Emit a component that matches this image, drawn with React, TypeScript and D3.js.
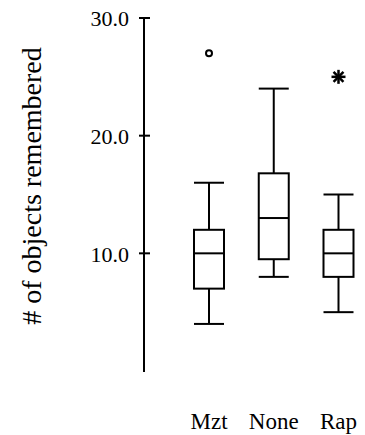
import React, { useEffect, useRef } from "react";
import * as d3 from "d3";

// box plot stats per group
const groups = ["Mzt", "None", "Rap"];
const whiskerLow = [4, 8, 5];
const q1 = [7, 9.5, 8];
const medians = [10, 13, 10];
const q3 = [12, 16.8, 12];
const whiskerHigh = [16, 24, 15];

// outliers: group, value, marker type
const outlierGroups = ["Mzt", "Rap"];
const outlierValues = [27, 25];
const outlierKinds = ["circle", "star"];

const yTicks = [10, 20, 30];

const App = () => {
  const svgRef = useRef(null);

  useEffect(() => {
    const svg = d3.select(svgRef.current);
    svg.selectAll("*").remove();

    const font = "Liberation Serif, serif";

    const y = d3.scaleLinear().domain([0, 30]).range([371, 18]);
    const x = d3.scalePoint().domain(groups).range([209, 338.5]);
    const boxW = 30;
    const axisX = 144;

    // y axis
    const axis = svg
      .append("g")
      .attr("transform", `translate(${axisX},0)`)
      .call(
        d3
          .axisLeft(y)
          .tickValues(yTicks)
          .tickSize(0)
          .tickFormat(d3.format(".1f")),
      )
      .attr("font-family", font)
      .attr("font-size", 22);
    axis.select(".domain").remove();
    axis
      .selectAll(".tick text")
      .attr("x", -15)
      .attr("dy", "0.35em")
      .attr("fill", "#000");

    svg
      .append("line")
      .attr("x1", axisX)
      .attr("x2", axisX)
      .attr("y1", y(30))
      .attr("y2", y(0) + 1)
      .attr("stroke", "#000")
      .attr("stroke-width", 2);

    svg
      .selectAll(".ytick")
      .data(yTicks)
      .join("line")
      .attr("x1", axisX - 5)
      .attr("x2", axisX + 6)
      .attr("y1", (d) => y(d))
      .attr("y2", (d) => y(d))
      .attr("stroke", "#000")
      .attr("stroke-width", 2);

    // y label
    svg
      .append("text")
      .attr("transform", `translate(41,${186}) rotate(-90)`)
      .attr("text-anchor", "middle")
      .attr("font-family", font)
      .attr("font-size", 28)
      .text("# of objects remembered");

    // boxes
    const g = svg
      .append("g")
      .attr("stroke", "#000")
      .attr("stroke-width", 2)
      .attr("fill", "none");

    groups.forEach((name, i) => {
      const cx = x(name);
      // whisker stems
      g.append("line")
        .attr("x1", cx)
        .attr("x2", cx)
        .attr("y1", y(whiskerHigh[i]))
        .attr("y2", y(q3[i]));
      g.append("line")
        .attr("x1", cx)
        .attr("x2", cx)
        .attr("y1", y(q1[i]))
        .attr("y2", y(whiskerLow[i]));
      // caps
      [whiskerHigh[i], whiskerLow[i]].forEach((v) => {
        g.append("line")
          .attr("x1", cx - boxW / 2)
          .attr("x2", cx + boxW / 2)
          .attr("y1", y(v))
          .attr("y2", y(v));
      });
      // box
      g.append("rect")
        .attr("x", cx - boxW / 2)
        .attr("y", y(q3[i]))
        .attr("width", boxW)
        .attr("height", y(q1[i]) - y(q3[i]));
      // median
      g.append("line")
        .attr("x1", cx - boxW / 2)
        .attr("x2", cx + boxW / 2)
        .attr("y1", y(medians[i]))
        .attr("y2", y(medians[i]));
    });

    // outliers
    outlierGroups.forEach((name, i) => {
      const cx = x(name);
      const cy = y(outlierValues[i]);
      if (outlierKinds[i] === "circle") {
        g.append("circle").attr("cx", cx).attr("cy", cy).attr("r", 3);
      } else {
        [0, 45, 90, 135].forEach((a) => {
          const r = 7;
          const rad = (a * Math.PI) / 180;
          g.append("line")
            .attr("x1", cx - r * Math.cos(rad))
            .attr("x2", cx + r * Math.cos(rad))
            .attr("y1", cy - r * Math.sin(rad))
            .attr("y2", cy + r * Math.sin(rad))
            .attr("stroke-width", 2.5);
        });
      }
    });

    // category labels
    svg
      .append("g")
      .selectAll("text")
      .data(groups)
      .join("text")
      .attr("x", (d) => x(d))
      .attr("y", 429)
      .attr("text-anchor", "middle")
      .attr("font-family", font)
      .attr("font-size", 23)
      .text((d) => d);
  }, []);

  return (
    <svg
      ref={svgRef}
      width={365}
      height={435}
      style={{ position: "absolute", left: 0, top: 0, background: "#fff" }}
    />
  );
};

export default App;
